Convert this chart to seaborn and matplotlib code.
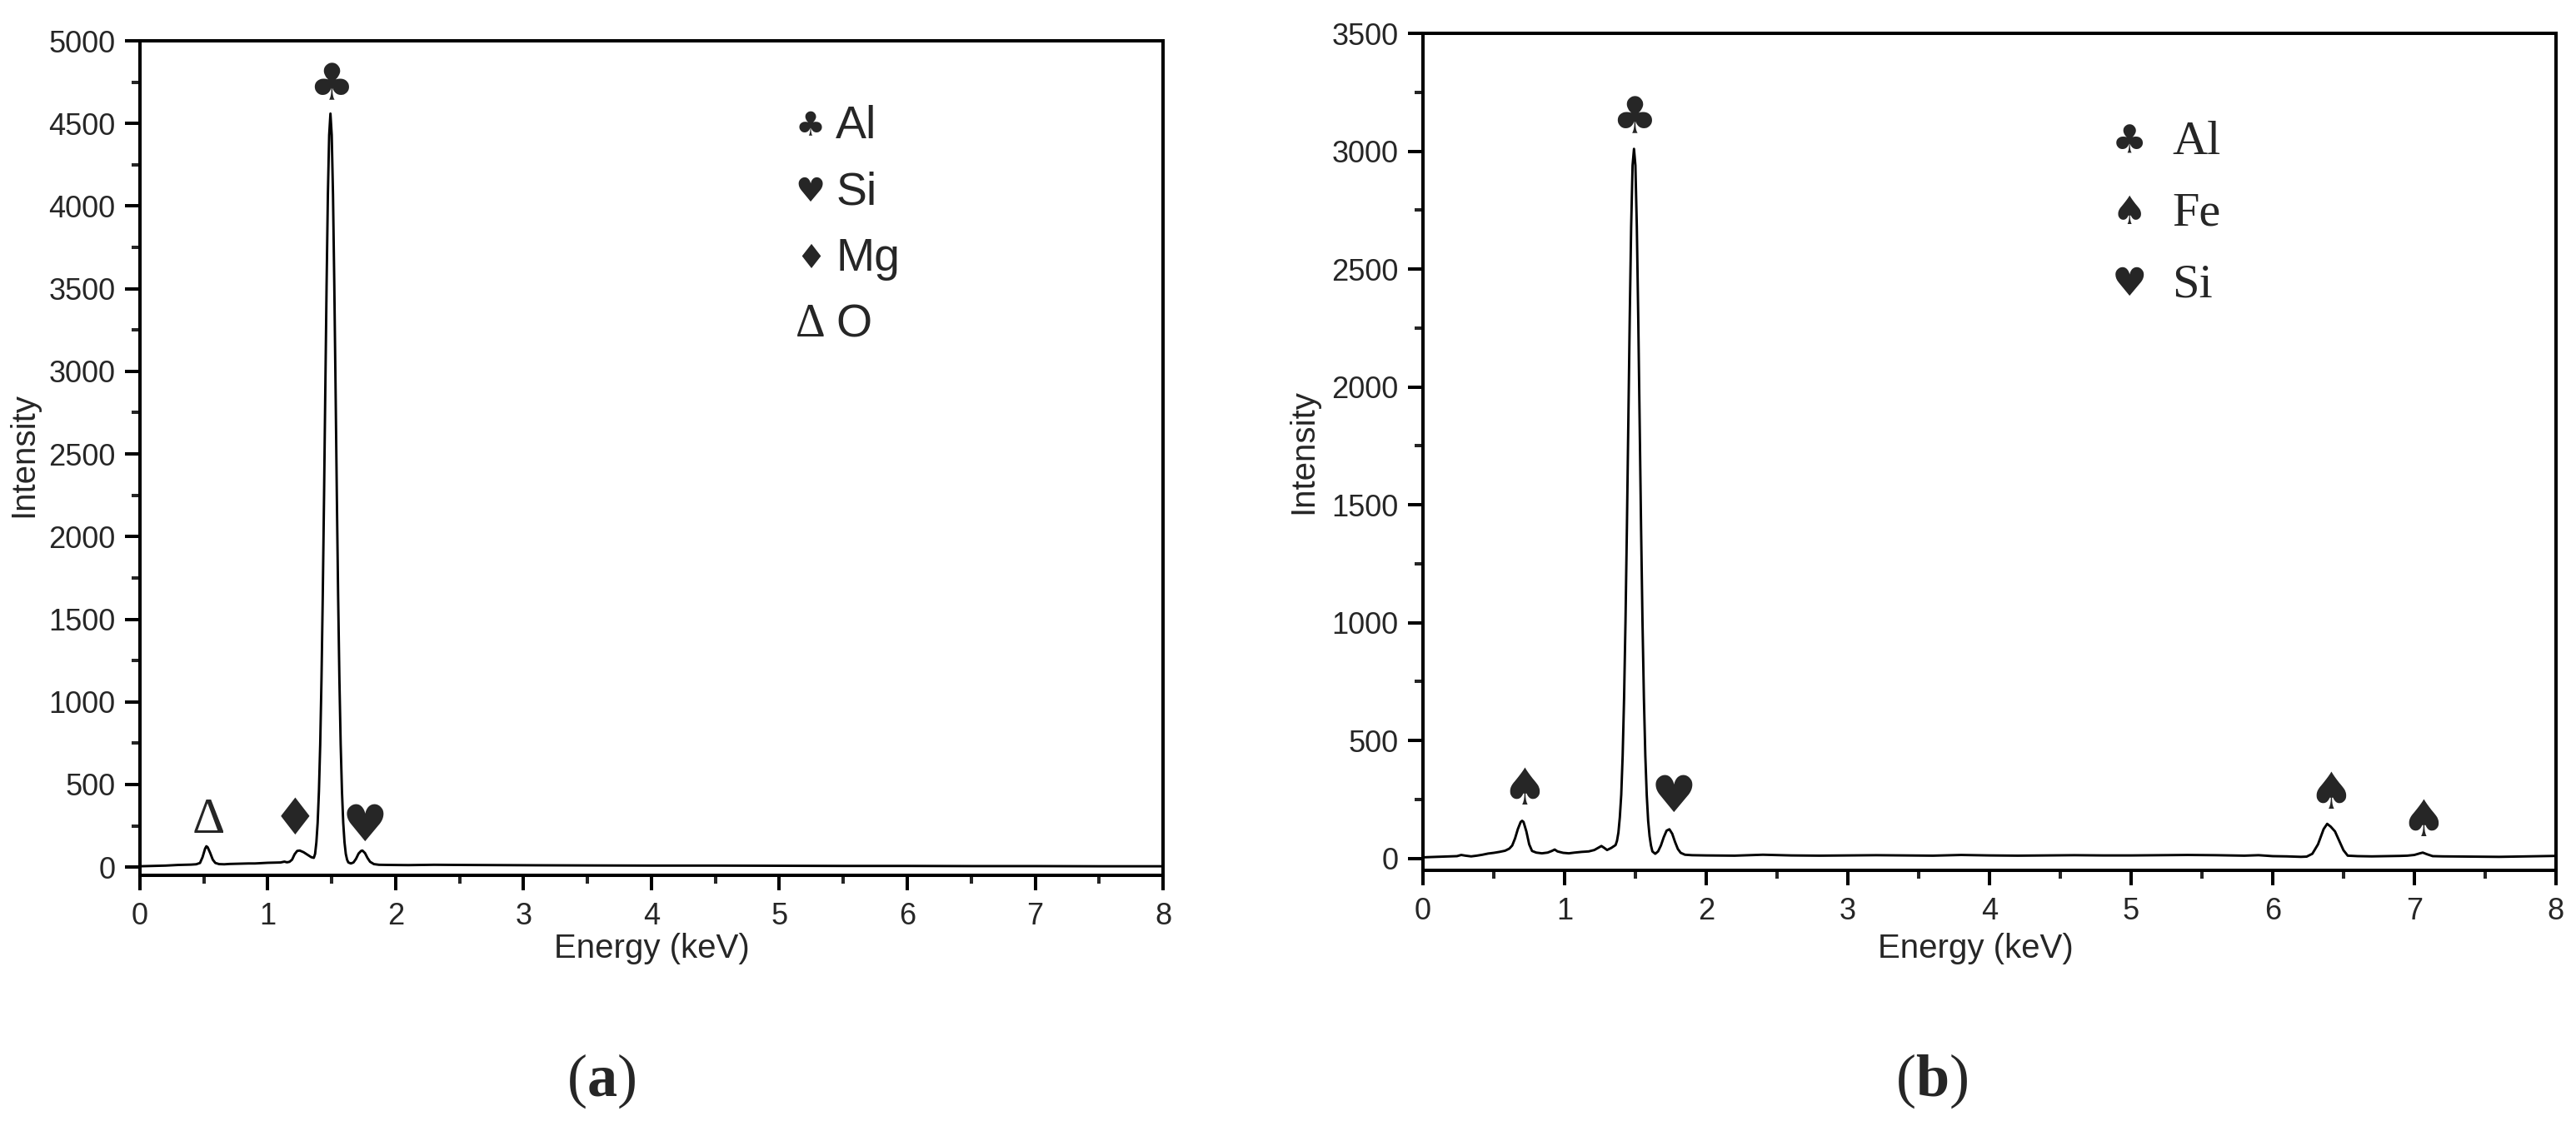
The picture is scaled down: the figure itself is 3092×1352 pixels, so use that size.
import numpy as np
import pandas as pd
import seaborn as sns
import matplotlib
matplotlib.use('Agg')
import matplotlib.pyplot as plt

# EDS spectrum (a) - energy in keV, intensity in counts
energy_a = [0.00, 0.05, 0.10, 0.15, 0.20, 0.25, 0.30, 0.35, 0.40, 0.44, 0.47, 0.49, 0.51, 0.52, 0.53,
            0.55, 0.57, 0.59, 0.62, 0.66, 0.70, 0.75, 0.80, 0.85, 0.90, 0.95, 1.00, 1.05, 1.10, 1.13,
            1.15, 1.17, 1.19, 1.21, 1.23, 1.25, 1.28, 1.31, 1.34, 1.36, 1.37, 1.38, 1.39, 1.40, 1.41,
            1.42, 1.43, 1.44, 1.45, 1.46, 1.47, 1.48, 1.49, 1.50, 1.51, 1.52, 1.53, 1.54, 1.55, 1.56,
            1.57, 1.58, 1.59, 1.60, 1.61, 1.62, 1.63, 1.65, 1.67, 1.69, 1.71, 1.73, 1.74, 1.76, 1.78,
            1.80, 1.83, 1.87, 1.95, 2.10, 2.30, 2.50, 2.80, 3.10, 3.50, 4.00, 4.50, 5.00, 5.50, 6.00,
            6.50, 7.00, 7.50, 8.00]
intensity_a = [5, 6, 7, 8, 9, 11, 13, 14, 15, 17, 25, 60, 112, 126, 120,
               85, 45, 25, 18, 17, 19, 20, 21, 22, 22, 24, 26, 27, 28, 33,
               29, 32, 45, 78, 98, 100, 90, 75, 60, 56, 80, 150, 268, 459, 743,
               1137, 1645, 2245, 2900, 3530, 4070, 4430, 4560, 4430, 4070, 3530, 2900, 2245, 1645, 1137,
               743, 459, 268, 150, 80, 45, 28, 22, 28, 50, 82, 98, 100, 85, 55,
               32, 18, 14, 13, 12, 14, 13, 12, 11, 10, 9, 9, 8, 7, 7,
               6, 6, 5, 5]

# EDS spectrum (b)
energy_b = [0.00, 0.05, 0.10, 0.15, 0.20, 0.24, 0.27, 0.30, 0.34, 0.38, 0.42, 0.46, 0.50, 0.54, 0.58,
            0.61, 0.63, 0.65, 0.67, 0.69, 0.70, 0.71, 0.73, 0.75, 0.77, 0.80, 0.84, 0.88, 0.91, 0.93,
            0.95, 0.99, 1.03, 1.07, 1.12, 1.17, 1.21, 1.24, 1.26, 1.28, 1.30, 1.33, 1.36, 1.37, 1.38,
            1.39, 1.40, 1.41, 1.42, 1.43, 1.44, 1.45, 1.46, 1.47, 1.48, 1.49, 1.50, 1.51, 1.52, 1.53,
            1.54, 1.55, 1.56, 1.57, 1.58, 1.59, 1.60, 1.61, 1.62, 1.64, 1.66, 1.68, 1.70, 1.72, 1.74,
            1.76, 1.78, 1.80, 1.82, 1.85, 1.90, 2.00, 2.20, 2.40, 2.60, 2.80, 3.00, 3.20, 3.40, 3.60,
            3.80, 4.00, 4.20, 4.40, 4.60, 4.80, 5.00, 5.20, 5.40, 5.60, 5.80, 5.90, 6.00, 6.10, 6.20,
            6.24, 6.28, 6.32, 6.36, 6.385, 6.41, 6.44, 6.47, 6.50, 6.53, 6.60, 6.70, 6.80, 6.90, 6.95,
            7.00, 7.04, 7.06, 7.09, 7.13, 7.20, 7.40, 7.60, 7.80, 8.00]
intensity_b = [5, 6, 7, 8, 9, 10, 15, 12, 9, 12, 16, 21, 24, 28, 33,
               42, 55, 85, 125, 155, 160, 155, 115, 60, 32, 25, 22, 25, 32, 38,
               30, 24, 22, 25, 28, 30, 36, 46, 53, 45, 36, 45, 57, 75, 110,
               175, 270, 436, 680, 1005, 1404, 1850, 2295, 2680, 2940, 3010, 2940, 2680, 2295, 1850,
               1404, 1005, 680, 436, 270, 160, 95, 55, 30, 20, 30, 55, 90, 118, 124,
               105, 70, 40, 24, 16, 14, 13, 12, 16, 13, 12, 13, 14, 13, 12,
               15, 13, 12, 13, 14, 13, 13, 14, 15, 14, 12, 14, 10, 9, 7,
               8, 20, 60, 125, 147, 135, 115, 75, 35, 12, 10, 9, 10, 11, 12,
               15, 22, 25, 18, 10, 9, 8, 7, 9, 11]

# peak markers: (energy, intensity, symbol)
marks_a = [(0.534, 282, '\u0394'), (1.215, 282, '\u2666'), (1.497, 4723, '\u2663'), (1.76, 242, '\u2665')]
marks_b = [(0.718, 286, '\u2660'), (1.491, 3135, '\u2663'), (1.768, 254, '\u2665'),
           (6.41, 270, '\u2660'), (7.065, 154, '\u2660')]

legend_a = [('\u2663', 'Al'), ('\u2665', 'Si'), ('\u2666', 'Mg'), ('\u0394', 'O')]
legend_b = [('\u2663', 'Al'), ('\u2660', 'Fe'), ('\u2665', 'Si')]

sns.set_style('ticks')
sans = ['Liberation Sans Narrow', 'Liberation Sans', 'DejaVu Sans']
plt.rcParams['font.family'] = sans
plt.rcParams['axes.linewidth'] = 2.9
plt.rcParams['xtick.major.width'] = 2.9
plt.rcParams['ytick.major.width'] = 2.9
plt.rcParams['xtick.minor.width'] = 2.9
plt.rcParams['ytick.minor.width'] = 2.9
plt.rcParams['xtick.direction'] = 'out'
plt.rcParams['ytick.direction'] = 'out'

fig = plt.figure(figsize=(30.92, 13.52), dpi=100)
ax_a = fig.add_axes([0.0543, 0.2226, 0.3972, 0.7411])
ax_b = fig.add_axes([0.5524, 0.2271, 0.4398, 0.7433])


def style_axis(ax, ymax):
    ax.set_xlim(0, 8)
    ax.set_ylim(-50, ymax)
    ax.set_xticks(range(0, 9))
    ax.set_xticks(np.arange(0.5, 8, 1), minor=True)
    ax.set_yticks(np.arange(0, ymax + 1, 500))
    ax.set_yticks(np.arange(250, ymax, 500), minor=True)
    ax.tick_params(axis='both', which='major', length=13, labelsize=26, color='black')
    ax.tick_params(axis='x', which='major', pad=10)
    ax.tick_params(axis='y', which='major', pad=8)
    ax.tick_params(axis='both', which='minor', length=7)
    for s in ax.spines.values():
        s.set_visible(True)
        s.set_color('black')
    ax.set_xlabel('Energy (keV)', fontsize=29)
    ax.set_ylabel('Intensity', fontsize=29)


df_a = pd.DataFrame({'Energy': energy_a, 'Intensity': intensity_a})
df_b = pd.DataFrame({'Energy': energy_b, 'Intensity': intensity_b})
sns.lineplot(data=df_a, x='Energy', y='Intensity', ax=ax_a, color='black', lw=2.1)
sns.lineplot(data=df_b, x='Energy', y='Intensity', ax=ax_b, color='black', lw=2.1)
style_axis(ax_a, 5000)
style_axis(ax_b, 3500)
ax_a.yaxis.set_label_coords(-0.0985, 0.504)
ax_b.yaxis.set_label_coords(-0.092, 0.5)
ax_a.xaxis.set_label_coords(0.5, -0.069)
ax_b.xaxis.set_label_coords(0.488, -0.075)

# peak symbols
for e, i, s in marks_a:
    fam = ['Liberation Serif'] if s == '\u0394' else ['DejaVu Sans']
    ax_a.text(e, i, s, ha='center', va='center', fontsize=44, family=fam)
for e, i, s in marks_b:
    ax_b.text(e, i, s, ha='center', va='center', fontsize=44, family=['DejaVu Sans'])

# legends written as text
ys_a = [0.897, 0.818, 0.7385, 0.6597]
for (s, lab), y in zip(legend_a, ys_a):
    if s == '\u0394':
        ax_a.text(0.6555, y, s, transform=ax_a.transAxes, ha='center', va='center',
                  fontsize=40, family=['Liberation Serif'])
    else:
        ax_a.text(0.6555, y, s, transform=ax_a.transAxes, ha='center', va='center',
                  fontsize=29, family=['DejaVu Sans'])
    ax_a.text(0.68, y, lab, transform=ax_a.transAxes, ha='left', va='center', fontsize=40, family=sans)

ys_b = [0.8697, 0.785, 0.6995]
for (s, lab), y in zip(legend_b, ys_b):
    ax_b.text(0.6235, y, s, transform=ax_b.transAxes, ha='center', va='center', fontsize=34, family=['DejaVu Sans'])
    ax_b.text(0.661, y, lab, transform=ax_b.transAxes, ha='left', va='center', fontsize=42, family=['Liberation Serif'])

# panel captions
plt.rcParams['mathtext.fontset'] = 'custom'
plt.rcParams['mathtext.rm'] = 'Liberation Serif'
plt.rcParams['mathtext.bf'] = 'Liberation Serif:bold'
fig.text(722 / 3092, 1 - 1298 / 1352, r'$\mathrm{(}\mathbf{a}\mathrm{)}$', ha='center', va='center', fontsize=52)
fig.text(2319 / 3092, 1 - 1298 / 1352, r'$\mathrm{(}\mathbf{b}\mathrm{)}$', ha='center', va='center', fontsize=52)

fig.savefig('out.png', dpi=100, facecolor='white')
